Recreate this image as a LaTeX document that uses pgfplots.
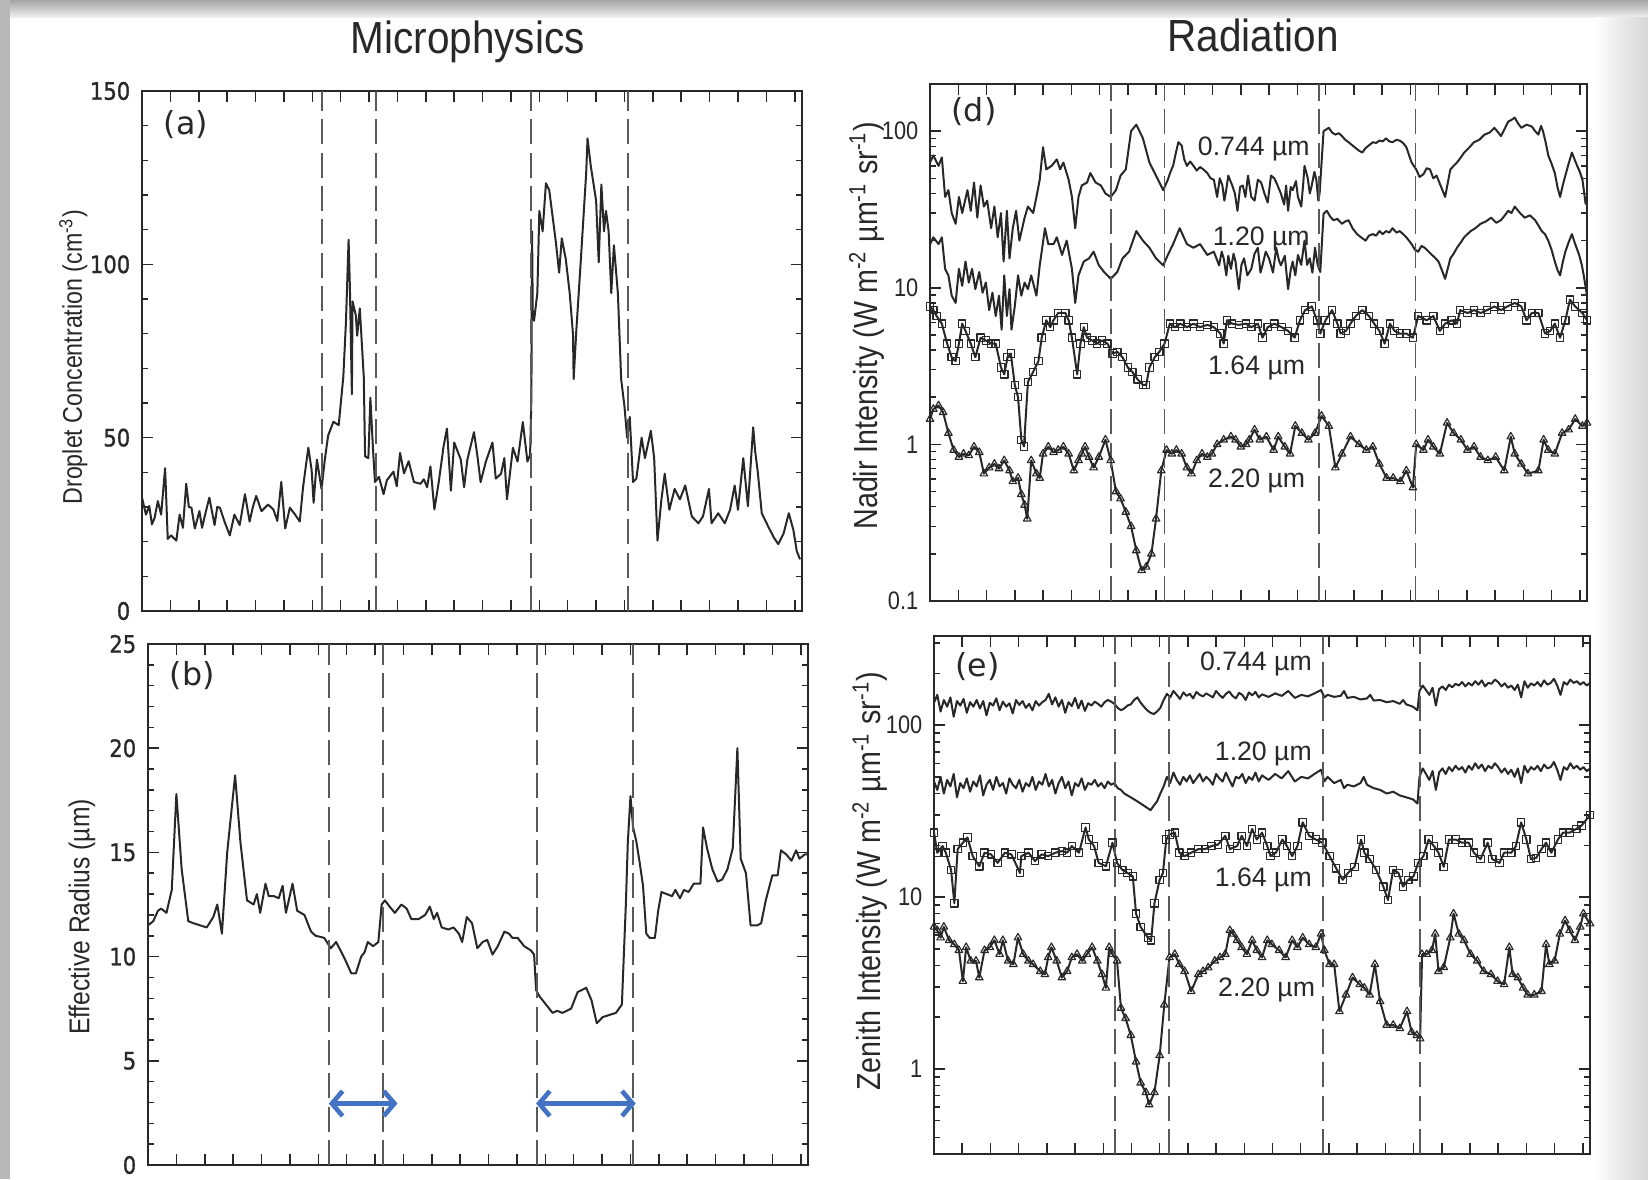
\documentclass[border=0pt]{standalone}
\usepackage{fontspec}
\setmainfont{Liberation Sans}
\newfontfamily\narrowfont{Liberation Sans}[FakeStretch=0.86]
\newfontfamily\titlefont{Liberation Sans}[FakeStretch=0.9]
\newfontfamily\roundfont{DejaVu Sans}[FakeStretch=0.88, FakeBold=1]
\newfontfamily\panelfont{DejaVu Sans}
\usepackage{pgfplots}
\pgfplotsset{compat=1.18}
\usetikzlibrary{arrows.meta}
\definecolor{ink}{RGB}{40,40,40}
\definecolor{arrowblue}{RGB}{68,114,196}
\tikzset{
  wl/.style={anchor=east, font=\fontsize{8}{9}\selectfont, text=ink, inner sep=1pt},
  plab/.style={anchor=west, font=\panelfont\fontsize{9.5}{10}\selectfont, text=ink},
}
\pgfplotsset{
  panel/.style={scale only axis, anchor=south west, xmin=0, xmax=100,
    xtick={4.3,8.6,12.9,17.2,21.5,25.8,30.1,34.4,38.7,43,47.3,51.6,55.9,60.2,64.5,68.8,73.1,77.4,81.7,86,90.3,94.6,98.9},
    xticklabels={}, tick pos=both, tick align=inside,
    axis line style={line width=0.6pt, ink}, every tick/.style={ink, line width=0.45pt},
    major tick length=3.2pt, minor tick length=1.7pt,
    /pgf/number format/assume math mode=true},
  leftticks/.style={yticklabel style={font=\roundfont\fontsize{7.2}{8}\selectfont, text=ink}},
  rightticks/.style={yticklabel style={font=\narrowfont\fontsize{7.6}{8}\selectfont, text=ink}},
  trace/.style={line width=0.6pt, ink, mark=none, line join=round},
  sq/.style={trace, mark=square, mark size=1.1pt, mark options={solid, line width=0.35pt, fill=white}},
  tri/.style={trace, mark=triangle, mark size=1.3pt, mark options={solid, line width=0.35pt, fill=white}},
  vdash/.style={line width=0.5pt, black!65, dash pattern=on 7.5pt off 2.5pt},
  barrow/.style={arrowblue, line width=1.4pt, {Straight Barb[length=3.2pt,width=7.5pt]}-{Straight Barb[length=3.2pt,width=7.5pt]}},
}
\begin{document}
\begin{tikzpicture}
\useasboundingbox (0pt,0pt) rectangle (494.4pt,353.7pt);
\fill[white] (0pt,0pt) rectangle (494.4pt,353.7pt);
\shade[top color=black!35, bottom color=black!6] (0pt,348.5pt) rectangle (494.4pt,353.7pt);
\fill[black!28] (0pt,0pt) rectangle (3pt,353.7pt);
\shade[left color=white, right color=black!16] (478pt,0pt) rectangle (494.4pt,348.5pt);

% ---------------- (a) ----------------
\begin{axis}[panel, leftticks, at={(42.6pt,170.4pt)}, width=198pt, height=156pt,
  ymin=0, ymax=150, ytick={0,50,100,150}, yticklabels={0,50,100,150},
  minor ytick={10,20,30,40,60,70,80,90,110,120,130,140}]
\addplot[trace] coordinates {(0,32.7)(0.6,27.8)(1.1,30.3)(1.5,25)(1.9,26.8)(2.4,31.7)(2.9,27.8)(3.5,41.2)(3.9,20.8)(4.4,21.8)(5.2,20.3)(5.7,27.8)(6.2,24)(6.7,36.7)(7.1,30)(7.5,29.8)(8.0,23.8)(8.7,28.8)(9.1,24)(9.5,27.3)(10.2,32.7)(11.0,24.8)(11.4,30)(11.8,29.8)(12.5,25.8)(13.3,21.8)(14.0,27.8)(14.8,24.8)(15.6,33.7)(16.3,25.8)(16.8,30)(17.3,33.2)(18.1,28.8)(19.1,30.7)(19.9,29.3)(20.5,26)(21.1,37.2)(21.7,23.8)(22.4,29.8)(23.2,27.8)(23.9,25.8)(24.4,35.7)(25.2,47.1)(25.7,40.7)(26.0,31.2)(26.5,43.7)(27.2,35.2)(27.7,43.7)(28.2,50.6)(29.0,54.6)(29.8,53.6)(30.5,67.5)(30.9,83.3)(31.3,107.1)(31.5,93.3)(31.8,62.5)(31.9,89.3)(32.4,85.3)(32.6,79.4)(33.0,87.3)(33.6,67.5)(33.8,44.6)(34.3,44.1)(34.6,61.5)(35.0,46.6)(35.3,37.2)(35.9,38.7)(36.6,33.7)(37.1,37.7)(38.1,40.2)(38.6,36)(39.1,45.6)(39.7,39.7)(40.4,43.2)(41.2,37.2)(42.2,36.7)(42.7,38)(43.2,35.7)(43.7,41.7)(44.3,29.3)(45.0,37.7)(45.7,47.6)(46.2,52.6)(46.8,34.7)(47.3,48.6)(48.3,43.7)(48.8,35.7)(49.3,43.7)(50.3,51.6)(50.8,45)(51.3,37.2)(52.1,43.1)(53.1,48.6)(53.6,38.2)(54.4,39.6)(54.9,44.1)(55.3,32.2)(56.2,47.1)(56.9,43.1)(57.7,54.5)(58.4,43.1)(58.8,45.1)(59.0,61.9)(59.1,109.5)(59.2,86.7)(59.4,83.7)(59.9,91.7)(60.2,115.4)(60.7,109.5)(61.2,123.4)(61.7,121.4)(62.7,106.5)(63.2,97.6)(63.6,107.5)(64.2,101.6)(64.8,91.7)(65.3,79.8)(65.4,66.9)(65.8,80.8)(66.5,101.6)(67.3,126.4)(67.5,136.3)(68.0,128.3)(68.8,118.4)(69.2,100.6)(69.6,123.0)(70.0,109.5)(70.3,115.4)(70.7,109.5)(71.1,91.7)(71.5,105.5)(72.1,91.7)(72.6,66.9)(73.1,59.0)(73.5,50.0)(73.9,56.0)(74.4,37.2)(74.9,38.2)(75.7,50.0)(76.2,44.1)(77.1,52.0)(77.6,44.1)(78.1,20.3)(78.7,32.2)(79.2,39.6)(79.9,29.2)(80.7,35.2)(81.5,32.2)(82.3,36.2)(83.3,27.3)(84.3,25.3)(85.0,27.3)(85.9,35.2)(86.3,25.3)(87.3,28.2)(88.3,25.3)(89.1,29.2)(89.8,36.2)(90.3,29.2)(91.1,44.1)(91.8,30.2)(92.6,53.0)(92.9,46.1)(93.3,40.1)(93.9,28.2)(94.9,24.3)(95.7,21.3)(96.4,19.3)(97.2,22.3)(98.0,28.2)(98.7,23.3)(99.2,17.3)(99.7,14.9)};
\addplot[vdash] coordinates {(27.3,0)(27.3,150)};
\addplot[vdash] coordinates {(35.5,0)(35.5,150)};
\addplot[vdash] coordinates {(58.9,0)(58.9,150)};
\addplot[vdash] coordinates {(73.6,0)(73.6,150)};
\node[plab] at (rel axis cs:0.015,0.935) {(a)};
\end{axis}

% ---------------- (b) ----------------
\begin{axis}[panel, leftticks, at={(44.4pt,4.2pt)}, width=198pt, height=156.3pt,
  ymin=0, ymax=25, ytick={0,5,10,15,20,25}, yticklabels={0,5,10,15,20,25},
  minor ytick={1,2,3,4,6,7,8,9,11,12,13,14,16,17,18,19,21,22,23,24}]
\addplot[trace] coordinates {(0,11.5)(0.8,11.7)(1.5,12.2)(2.0,12.3)(2.8,12.1)(3.6,13.2)(4.3,17.8)(5.1,14.2)(6.1,11.7)(6.9,11.6)(7.9,11.5)(8.9,11.4)(9.9,11.9)(10.5,12.5)(11.2,11.1)(12.0,15.0)(13.2,18.7)(14.0,15.5)(15.0,12.7)(16.0,12.5)(16.5,13.0)(17.0,12.1)(17.8,13.5)(18.3,12.9)(19.1,12.9)(19.8,12.8)(20.4,13.4)(20.9,12.1)(21.9,13.5)(22.6,12.2)(23.7,12.0)(24.7,11.2)(25.4,11.0)(26.7,10.9)(27.7,10.4)(28.5,10.7)(29.0,10.4)(29.8,9.9)(30.8,9.2)(31.5,9.2)(32.3,10.0)(32.8,10.2)(33.3,10.7)(34.1,10.5)(34.9,10.7)(35.4,12.5)(35.9,12.7)(36.6,12.4)(37.4,12.1)(38.4,12.5)(39.2,12.3)(39.9,11.8)(41.0,11.8)(42.0,12.0)(42.7,12.4)(43.3,11.8)(43.8,12.1)(44.5,11.4)(45.5,11.3)(46.3,11.4)(47.1,11.1)(47.6,10.7)(48.3,11.9)(49.1,11.6)(49.9,10.4)(50.7,10.7)(51.4,10.8)(52.2,10.1)(53.0,10.5)(54.0,11.2)(54.7,11.1)(55.2,10.9)(56.0,10.9)(57.0,10.5)(58.0,10.3)(58.5,10.1)(58.8,8.4)(59.3,8.1)(60.3,7.7)(61.3,7.3)(62.0,7.4)(62.8,7.3)(64.1,7.5)(65.1,8.3)(66.4,8.5)(67.2,7.9)(68.0,6.8)(68.9,7.1)(69.9,7.2)(70.9,7.3)(71.8,7.7)(72.4,12.5)(72.7,15.5)(73.1,17.7)(73.5,16.2)(74.0,15.5)(74.5,14.5)(75.0,13.4)(75.5,11.1)(76.0,10.9)(76.8,10.9)(77.3,12.2)(77.8,13.1)(78.6,13.0)(79.4,12.9)(79.9,13.2)(80.6,12.8)(81.2,13.2)(81.9,13.1)(82.7,13.5)(83.7,13.5)(84.1,16.2)(84.7,15.2)(85.5,14.2)(86.3,13.6)(87.0,13.7)(87.8,14.2)(88.6,15.2)(89.3,20.0)(89.8,14.7)(90.6,14.0)(91.3,11.5)(92.3,11.5)(92.9,11.6)(93.6,12.7)(94.6,13.9)(95.4,13.9)(95.9,15.1)(96.7,14.9)(97.5,14.6)(98.2,15.1)(98.7,14.7)(99.5,14.9)(100,14.9)};
\addplot[vdash] coordinates {(27.4,0)(27.4,25)};
\addplot[vdash] coordinates {(35.6,0)(35.6,25)};
\addplot[vdash] coordinates {(58.9,0)(58.9,25)};
\addplot[vdash] coordinates {(73.5,0)(73.5,25)};
\addplot[barrow] coordinates {(27.4,2.95)(37.8,2.95)};
\addplot[barrow] coordinates {(58.8,2.95)(73.9,2.95)};
\node[plab] at (rel axis cs:0.015,0.94) {(b)};
\end{axis}

% ---------------- (d) ----------------
\begin{axis}[panel, rightticks, at={(279pt,173.4pt)}, width=197.1pt, height=155.1pt,
  ymode=log, ymin=0.1, ymax=200, ytick={0.1,1,10,100}, yticklabels={0.1,1,10,100},
  minor ytick={0.2,0.3,0.4,0.5,0.6,0.7,0.8,0.9,2,3,4,5,6,7,8,9,20,30,40,50,60,70,80,90,200}]
\addplot[trace] coordinates {(0,63)(0.5,70)(1.3,60)(1.8,68)(2.3,38)(2.8,42)(3.3,30)(3.9,25.6)(4.4,38)(4.9,30)(5.7,42)(6.2,31)(6.7,47)(7.2,28)(7.7,45)(8.2,33)(8.7,36)(9.3,24)(9.8,33)(10.3,21)(10.8,30)(11.2,14.7)(11.7,31)(12.1,15.4)(12.6,24)(13.1,31)(13.6,20)(14.4,28)(14.9,33)(15.7,30)(16.2,38)(16.7,49)(17.2,79)(17.7,57)(18.5,60)(19.3,66)(19.8,57)(20.3,63)(21.1,49)(21.6,38)(22.1,24)(22.6,38)(23.1,45)(23.9,47)(24.4,54)(25.2,47)(26.0,45)(26.7,40)(27.5,38)(28.3,42)(29.0,52)(29.8,57)(30.6,100)(31.4,110)(32.4,90)(33.4,63)(34.4,52)(35.5,42)(36.2,49)(36.6,55)(37.0,60)(37.4,72)(37.8,85)(38.3,81)(38.7,66)(39.1,60)(39.6,64)(40.1,60)(40.6,56)(41.1,59)(41.6,57)(42.2,54)(42.7,50)(43.2,49)(43.5,42)(43.7,38)(44.1,50)(44.5,45)(44.8,36)(45.0,40)(45.4,52)(46.0,45)(46.4,40)(46.8,31)(47.2,44)(47.6,45)(48.0,38)(48.4,52)(48.9,38)(49.4,36)(49.9,49)(50.4,47)(50.9,40)(51.4,35)(51.9,52)(52.4,50)(52.9,45)(53.4,40)(53.9,34)(54.2,45)(54.5,31)(54.9,44)(55.2,42)(55.7,48)(56.0,38)(56.5,33)(56.8,46)(57.0,60)(57.5,50)(57.8,40)(58.1,45)(58.5,55)(58.8,49)(59.1,36)(59.3,40)(59.9,100)(60.7,105)(61.2,98)(61.7,95)(62.2,97)(62.7,93)(63.2,88)(63.7,85)(64.3,81)(64.8,78)(65.3,75)(65.8,73)(66.3,78)(66.8,81)(67.4,85)(67.9,84)(68.4,87)(68.9,86)(69.4,90)(69.9,86)(70.4,85)(71.0,88)(71.5,87)(72.0,84)(72.5,79)(73.3,63)(74.0,57)(74.5,51)(75.1,53)(75.6,58)(76.1,57)(76.6,50)(77.1,52)(77.8,44)(78.4,38)(79.2,57)(79.7,60)(80.2,63)(80.8,68)(81.3,73)(82.0,78)(82.8,85)(83.6,88)(84.4,95)(85.2,98)(85.9,105)(86.4,99)(86.9,93)(87.5,104)(88.0,115)(88.5,118)(89.0,122)(89.5,112)(90.0,105)(90.8,110)(91.6,107)(92.1,100)(92.6,95)(93.0,108)(93.3,100)(93.7,85)(94.1,70)(94.6,62)(95.1,54)(95.5,44)(95.9,38)(96.3,45)(96.7,52)(97.2,62)(97.7,73)(98.1,66)(98.5,60)(98.9,55)(99.3,49)(99.8,34)};
\addplot[trace] coordinates {(0,18.9)(0.5,21)(1.3,19)(1.8,21)(2.3,13.2)(2.8,12)(3.3,8.9)(3.9,8.0)(4.4,13.2)(4.9,10.3)(5.4,14.7)(5.9,10.8)(6.4,13.2)(6.9,9.8)(7.5,12.6)(8.0,9.3)(8.5,10.8)(9.0,7.2)(9.5,9.3)(10.0,6.6)(10.5,8.9)(10.9,5.4)(11.3,12)(11.7,6.6)(12.1,9.8)(12.4,5.4)(12.9,7.6)(13.4,12)(13.9,8.9)(14.4,10.8)(14.9,9.8)(15.4,12)(16.2,8.9)(16.7,13.9)(17.5,24)(18.0,19)(18.8,19)(19.3,21)(20.1,16.2)(20.8,20)(21.6,13.2)(22.1,8.0)(22.6,12)(23.4,14.7)(24.2,15.4)(24.9,17)(25.7,13.9)(26.5,12.6)(27.5,11.4)(28.5,12.6)(29.3,15.4)(30.3,17)(31.4,23)(32.4,20)(33.4,18)(34.4,15.4)(35.5,13.9)(36.2,16.2)(37.0,19)(38.0,24)(39.1,19)(40.1,18)(41.1,19)(42.2,16.2)(43.2,17)(44.0,13.9)(44.4,17)(44.7,15.4)(45.1,12)(45.4,16)(45.8,13.2)(46.2,16.5)(46.5,14.7)(47.0,9.8)(47.4,14)(47.8,15.4)(48.3,12)(48.9,13.2)(49.4,16.5)(49.9,18)(50.3,12.5)(50.6,13.9)(51.1,17)(51.6,15.4)(52.2,12.5)(52.7,18)(53.1,15)(53.4,13.9)(54.0,16)(54.5,9.8)(54.9,13)(55.2,14.7)(55.6,12)(56.0,16.2)(56.5,14)(57.0,20)(57.4,14)(57.8,15.4)(58.2,12.5)(58.6,18)(59.0,14)(59.4,12.6)(59.9,29.7)(60.4,31)(60.9,28.5)(61.4,27)(62.0,27.5)(62.7,25.6)(63.2,26.5)(63.7,27)(64.3,24)(65.0,22)(65.6,21)(66.3,20)(66.8,21.5)(67.4,22)(67.9,21.5)(68.4,23)(68.9,22)(69.4,23)(69.9,22.5)(70.4,24)(71.0,22.5)(71.5,23)(72.0,22)(72.5,21)(73.3,19)(73.8,17.5)(74.3,17)(74.8,18.5)(75.3,18)(75.9,17)(76.4,16.2)(76.9,15.5)(77.4,14.7)(77.9,13)(78.4,11.4)(79.2,15.4)(79.7,16.5)(80.2,18)(80.8,19.5)(81.3,21)(81.8,22)(82.3,23)(83.0,24)(83.8,25.6)(84.6,26.5)(85.4,28)(86.2,26)(86.9,27)(87.5,29)(88.0,31)(88.5,30)(89.0,33)(89.8,30)(90.5,28)(91.3,29)(92.1,27)(92.6,25)(93.1,23)(93.6,22)(94.1,20)(94.6,17.5)(95.1,14.7)(95.5,13)(95.9,12)(96.3,14.5)(96.7,17)(97.2,19.5)(97.7,22)(98.2,19)(98.8,16.2)(99.2,14)(99.5,12)(100,8.9)};
\addplot[sq] coordinates {(0,7.6)(0.5,7.2)(1.0,6.6)(1.8,5.9)(2.6,4.4)(3.3,3.6)(3.9,3.4)(4.4,4.4)(4.9,5.9)(5.4,5.3)(6.2,4.4)(6.9,3.6)(7.7,4.8)(8.5,4.6)(9.3,4.4)(10.0,4.4)(10.8,3.1)(11.3,2.8)(11.8,3.6)(12.3,3.8)(12.9,2.4)(13.4,2.0)(13.9,1.07)(14.3,0.97)(14.9,2.5)(15.7,2.9)(16.5,3.4)(17.0,4.8)(17.7,6.2)(18.3,5.6)(18.8,6.2)(19.5,6.9)(20.6,6.9)(21.1,6.2)(21.6,4.8)(22.4,2.8)(22.9,4.4)(23.4,5.6)(23.9,4.8)(24.7,4.6)(25.4,4.4)(26.2,4.6)(27.0,4.4)(27.8,3.8)(28.5,3.9)(29.3,3.6)(30.1,3.1)(30.8,2.9)(31.6,2.6)(32.4,2.4)(32.9,2.4)(33.4,3.1)(34.2,3.6)(34.9,3.9)(35.7,4.4)(36.5,5.9)(37.3,5.6)(38.1,5.9)(39.1,5.6)(40.1,5.9)(41.1,5.6)(42.2,5.8)(43.2,5.6)(44.2,5.1)(44.7,4.4)(45.2,6.2)(46.0,5.9)(47.0,5.8)(48.1,5.9)(48.9,5.6)(49.9,5.9)(50.6,4.8)(51.4,5.6)(52.4,5.9)(53.5,5.6)(54.5,5.3)(55.5,4.8)(56.3,6.2)(57.1,7.2)(58.1,7.6)(58.9,6.2)(59.4,5.1)(60.2,6.2)(61.2,7.2)(62.0,5.9)(62.5,5.1)(63.3,5.3)(64.0,5.9)(64.8,6.6)(65.8,7.2)(66.8,6.6)(67.6,5.9)(68.4,5.3)(69.2,4.4)(70.0,5.9)(70.7,5.3)(71.5,5.1)(72.5,5.1)(73.5,4.8)(74.3,6.6)(75.6,6.2)(76.6,6.6)(77.6,5.3)(78.4,5.9)(79.4,6.2)(80.2,5.9)(80.7,7.2)(81.8,6.9)(82.8,7.2)(83.8,6.9)(84.8,7.2)(85.9,7.6)(86.9,7.2)(87.9,7.6)(89.0,8.0)(90.0,7.6)(90.8,6.2)(91.6,6.9)(92.6,6.9)(93.6,5.1)(94.4,5.3)(95.1,5.9)(95.9,4.8)(96.7,6.2)(97.4,8.4)(98.2,7.6)(99.3,6.9)(100,6.2)};
\addplot[tri] coordinates {(0,1.45)(0.5,1.68)(1.3,1.77)(2.0,1.6)(2.8,1.18)(3.6,0.92)(4.4,0.83)(5.1,0.87)(5.9,0.85)(6.7,0.965)(7.5,0.89)(8.2,0.65)(9.0,0.71)(9.8,0.75)(10.5,0.70)(11.3,0.79)(12.1,0.68)(12.6,0.58)(13.4,0.61)(13.9,0.48)(14.4,0.41)(14.8,0.335)(15.4,0.79)(16.2,0.65)(16.7,0.61)(17.2,0.87)(18.0,0.965)(18.8,0.89)(19.5,0.92)(20.3,0.965)(21.1,0.87)(21.9,0.68)(22.6,0.79)(23.1,0.87)(23.6,0.965)(24.2,0.83)(24.9,0.71)(25.7,0.83)(26.7,1.07)(27.5,0.79)(28.3,0.50)(29.0,0.45)(29.8,0.37)(30.6,0.30)(31.4,0.21)(32.2,0.157)(32.9,0.165)(33.7,0.20)(34.4,0.335)(35.2,0.68)(36.0,0.92)(36.8,0.87)(37.5,0.92)(38.3,0.87)(39.1,0.71)(39.8,0.65)(40.6,0.79)(41.4,0.87)(42.2,0.83)(42.9,0.87)(43.7,1.0)(44.7,1.07)(45.8,1.12)(46.5,1.07)(47.3,0.965)(48.1,1.0)(48.6,1.07)(49.4,1.24)(50.2,1.07)(51.2,1.12)(52.3,0.92)(53.0,1.12)(54.0,0.965)(54.8,0.87)(55.6,1.31)(56.6,1.18)(57.6,1.07)(58.6,1.18)(59.6,1.52)(60.7,1.31)(61.7,0.71)(62.7,0.87)(64.0,1.12)(65.3,1.0)(66.4,0.92)(67.4,0.965)(68.4,0.75)(69.5,0.61)(70.5,0.61)(71.6,0.58)(72.5,0.68)(73.5,0.53)(74.0,1.0)(75.1,0.92)(75.8,1.07)(76.6,0.965)(77.6,0.87)(78.7,1.37)(79.7,1.18)(80.8,1.07)(81.8,0.92)(82.8,0.965)(83.8,0.83)(84.9,0.79)(86.1,0.83)(87.4,0.68)(88.4,1.12)(89.0,0.87)(90.0,0.75)(91.0,0.65)(92.6,0.68)(93.4,1.07)(94.1,0.92)(95.1,0.87)(96.2,1.18)(97.2,1.24)(98.2,1.45)(99.3,1.31)(100,1.37)};
\addplot[vdash] coordinates {(27.5,0.1)(27.5,200)};
\addplot[vdash] coordinates {(35.7,0.1)(35.7,200)};
\addplot[vdash] coordinates {(59.2,0.1)(59.2,200)};
\addplot[vdash] coordinates {(73.9,0.1)(73.9,200)};
\node[wl] at (axis cs:58.4,77) {0.744 µm};
\node[wl] at (axis cs:58.4,20.5) {1.20 µm};
\node[wl] at (axis cs:57.7,3.08) {1.64 µm};
\node[wl] at (axis cs:57.7,0.58) {2.20 µm};
\node[plab] at (rel axis cs:0.015,0.946) {(d)};
\end{axis}

% ---------------- (e) ----------------
\begin{axis}[panel, rightticks, at={(280.2pt,7.5pt)}, width=196.8pt, height=155.4pt,
  ymode=log, ymin=0.32, ymax=330, ytick={1,10,100}, yticklabels={1,10,100},
  minor ytick={0.4,0.5,0.6,0.7,0.8,0.9,2,3,4,5,6,7,8,9,20,30,40,50,60,70,80,90,200,300}]
\addplot[trace] coordinates {(0,135)(0.5,150)(1,120)(1.5,140)(2,128)(2.5,145)(3,112)(3.5,138)(4,130)(4.5,142)(5,118)(5.5,136)(6,128)(6.5,140)(7,125)(7.5,138)(8,114)(8.5,135)(9,130)(9.5,143)(10,122)(10.5,137)(11,128)(11.5,134)(12,117)(12.5,140)(13,131)(13.5,138)(14,126)(14.5,133)(15,122)(15.5,138)(16,130)(16.5,136)(17,140)(17.5,152)(18,132)(18.5,145)(19,128)(19.5,140)(20,118)(20.5,136)(21,129)(21.5,144)(22,125)(22.5,139)(23,121)(23.5,134)(24,130)(24.5,137)(25,133)(25.5,128)(26,136)(26.5,140)(27,137)(27.5,133)(28,126)(28.5,122)(29,125)(29.5,130)(30,132)(30.5,140)(31,145)(31.5,135)(32,128)(32.5,122)(33,118)(33.5,116)(34,120)(34.5,126)(35,140)(35.5,152)(36,145)(36.5,158)(37,150)(37.5,142)(38,155)(38.5,148)(39,152)(39.5,143)(40,156)(40.5,150)(41,147)(41.5,153)(42,149)(42.5,145)(43,158)(43.5,150)(44,144)(44.5,152)(45,157)(45.5,148)(46,143)(46.5,154)(47,150)(47.5,140)(48,155)(48.5,149)(49,156)(49.5,145)(50,151)(51,146)(52,153)(53,148)(54,158)(55,144)(56,150)(57,147)(58,153)(59,160)(59.5,145)(60,150)(61,146)(62,148)(62.5,158)(63,144)(64,146)(65,141)(66,143)(66.5,150)(67,139)(68,140)(69,136)(70,138)(71,133)(71.5,140)(72,132)(73,128)(73.7,122)(74,158)(74.5,170)(75,160)(75.5,150)(76,165)(76.5,130)(77,162)(77.5,168)(78,160)(78.5,172)(79,166)(79.5,174)(80,170)(80.5,178)(81,168)(81.5,176)(82,170)(82.5,180)(83,172)(83.5,182)(84,168)(84.5,176)(85,174)(85.5,184)(86,178)(86.5,168)(87,175)(87.5,165)(88,170)(88.5,160)(89,172)(89.5,145)(90,180)(90.5,165)(91,175)(91.5,170)(92,178)(92.5,168)(93,182)(93.5,172)(94,176)(94.5,186)(95,170)(95.5,150)(96,178)(96.5,172)(97,184)(97.5,176)(98,180)(98.5,172)(99,178)(99.5,170)(100,176)};
\addplot[trace] coordinates {(0,47)(0.5,42)(1,50)(1.5,40)(2,48)(2.5,44)(3,52)(3.5,38)(4,46)(4.5,43)(5,49)(5.5,41)(6,47)(6.5,44)(7,51)(7.5,39)(8,45)(8.5,48)(9,42)(9.5,50)(10,44)(10.5,46)(11,40)(11.5,49)(12,45)(12.5,43)(13,48)(13.5,41)(14,46)(14.5,44)(15,50)(15.5,42)(16,47)(16.5,45)(17,52)(17.5,44)(18,48)(18.5,40)(19,46)(19.5,50)(20,43)(20.5,47)(21,39)(21.5,46)(22,44)(22.5,49)(23,42)(23.5,46)(24,45)(24.5,48)(25,44)(25.5,46)(26,43)(26.5,47)(27,45)(27.5,46)(28,43)(28.5,42)(29,40)(29.5,39)(30,38)(30.5,37)(31,36)(31.5,35)(32,34)(32.5,33)(33,32)(33.5,34)(34,36)(34.5,40)(35,44)(35.5,50)(36,46)(36.5,53)(37,48)(37.5,45)(38,50)(38.5,47)(39,51)(39.5,46)(40,49)(40.5,52)(41,47)(41.5,50)(42,48)(42.5,45)(43,52)(43.5,49)(44,47)(44.5,53)(45,48)(45.5,44)(46,50)(46.5,49)(47,52)(47.5,46)(48,50)(48.5,48)(49,53)(49.5,47)(50,51)(51,48)(52,52)(53,49)(54,54)(55,47)(56,50)(57,49)(58,52)(59,55)(59.5,47)(60,50)(61,46)(62,48)(62.5,43)(63,45)(64,44)(65,46)(65.5,50)(66,45)(67,43)(68,42)(69,40)(70,41)(71,39)(72,38)(73,37)(73.7,35)(74,50)(74.5,56)(75,52)(75.5,48)(76,54)(76.5,42)(77,53)(77.5,56)(78,52)(78.5,57)(79,54)(79.5,58)(80,55)(80.5,57)(81,53)(81.5,58)(82,55)(82.5,60)(83,56)(83.5,59)(84,54)(84.5,58)(85,56)(85.5,60)(86,57)(86.5,53)(87,56)(87.5,52)(88,55)(88.5,50)(89,56)(89.5,46)(90,58)(90.5,53)(91,57)(91.5,55)(92,58)(92.5,54)(93,59)(93.5,56)(94,57)(94.5,61)(95,55)(95.5,48)(96,57)(96.5,55)(97,60)(97.5,56)(98,58)(98.5,55)(99,57)(99.5,54)(100,56)};
\addplot[sq] coordinates {(0,23.7)(0.5,18.1)(1.3,19.8)(1.8,18.1)(2.6,14.4)(3.1,9.2)(3.6,19.0)(4.4,20.7)(5.1,22.2)(5.9,17.3)(6.9,15.1)(7.7,18.1)(8.7,17.7)(9.7,15.8)(10.8,18.1)(11.8,17.7)(13.1,13.8)(13.3,17.3)(14.4,18.1)(15.4,16.2)(16.4,17.7)(17.4,17.3)(18.5,18.1)(19.5,18.5)(20.3,18.1)(21.0,19.8)(22.1,18.1)(23.1,25.4)(23.6,21.6)(24.4,19.8)(25.1,15.8)(26.2,15.1)(27.2,20.7)(27.9,15.8)(28.7,14.4)(29.5,13.8)(30.3,13.2)(30.8,8.0)(31.5,6.7)(32.6,5.8)(33.1,5.6)(33.6,9.2)(34.4,12.6)(34.9,13.8)(35.4,21.6)(35.9,23.1)(36.7,23.7)(37.4,18.1)(38.2,17.3)(39.2,18.1)(40.3,19.0)(41.3,19.0)(42.3,19.8)(43.3,20.2)(44.4,22.7)(45.1,19.0)(46.2,19.8)(46.9,22.7)(47.7,19.8)(48.5,24.9)(49.2,21.6)(50.0,23.7)(50.8,19.8)(51.3,17.3)(52.1,18.1)(53.1,21.6)(53.8,19.8)(54.6,17.3)(55.4,19.8)(56.2,27.2)(57.2,22.7)(58.2,21.6)(59.2,20.7)(60.3,17.3)(61.3,14.7)(62.3,12.6)(63.1,13.8)(64.1,15.0)(65.1,21.6)(65.6,18.1)(66.4,16.6)(67.4,14.4)(68.5,11.5)(69.2,9.6)(70.0,14.4)(70.8,13.8)(71.5,11.5)(72.3,12.6)(73.1,13.2)(73.8,15.8)(74.6,17.3)(75.4,21.6)(76.2,19.8)(76.9,18.1)(77.7,15.0)(78.5,21.6)(79.5,21.6)(80.5,20.7)(81.5,20.7)(82.3,18.1)(83.3,16.6)(84.4,20.7)(85.1,16.6)(86.2,15.8)(86.9,18.1)(88.0,18.1)(88.7,19.8)(89.5,27.2)(90.3,21.6)(91.0,16.6)(91.8,16.9)(92.6,19.0)(93.3,20.7)(94.1,18.1)(95.1,21.6)(95.9,23.7)(96.9,23.7)(97.9,24.9)(98.7,26.0)(100,30)};
\addplot[tri] coordinates {(0,6.7)(0.5,6.4)(1.0,5.8)(1.5,6.7)(2.3,5.6)(3.1,5.3)(3.8,4.9)(4.4,3.24)(4.9,5.1)(5.6,4.25)(6.4,4.25)(6.9,3.4)(7.7,4.9)(8.5,5.1)(9.2,5.6)(10.0,4.65)(10.5,5.6)(11.3,4.25)(12.1,4.06)(12.8,5.8)(13.6,4.65)(14.4,4.25)(15.1,4.06)(16.2,3.7)(16.9,3.55)(17.4,4.45)(17.9,5.1)(18.7,4.25)(19.5,3.4)(20.3,3.7)(21.0,4.45)(21.8,4.65)(22.6,4.25)(23.3,4.65)(24.1,5.1)(24.9,4.25)(25.6,3.55)(26.2,2.96)(26.7,5.1)(27.2,4.65)(27.9,4.25)(28.5,2.26)(29.2,1.97)(30.0,1.57)(30.8,1.1)(31.5,0.83)(32.3,0.73)(32.8,0.62)(33.6,0.73)(34.4,1.2)(35.1,2.36)(35.9,4.45)(36.7,4.65)(37.4,4.06)(38.2,3.7)(39.2,2.83)(40.3,3.55)(41.0,3.7)(41.8,3.88)(42.8,4.25)(43.6,4.45)(44.4,4.65)(45.1,6.4)(45.6,6.1)(46.2,5.6)(46.9,5.1)(47.7,4.65)(48.5,5.6)(49.2,4.9)(50.0,4.45)(50.8,5.6)(51.5,5.3)(52.6,4.9)(53.6,4.45)(54.6,5.6)(55.4,5.1)(56.2,5.8)(57.2,5.3)(58.2,5.1)(59.0,6.1)(59.5,4.9)(60.3,4.06)(61.0,4.06)(61.8,2.16)(62.8,2.7)(63.8,3.4)(64.9,3.1)(65.6,2.96)(66.4,2.7)(67.2,4.06)(68.0,2.47)(69.0,1.8)(70.0,1.8)(71.0,1.72)(72.1,2.16)(72.8,1.64)(73.6,1.57)(74.1,1.5)(74.4,4.65)(75.1,4.65)(75.9,4.9)(76.4,6.1)(76.9,3.7)(77.7,3.9)(78.7,5.8)(79.2,8.0)(80.0,6.1)(80.8,5.6)(81.8,4.65)(82.8,4.25)(83.8,3.7)(84.9,3.55)(85.9,3.24)(86.9,3.1)(87.7,5.1)(88.2,3.55)(89.0,3.4)(89.8,2.96)(90.5,2.7)(91.5,2.7)(92.6,2.83)(93.3,5.3)(93.8,4.06)(94.6,4.25)(95.4,6.1)(96.2,7.3)(96.9,6.4)(97.7,5.6)(98.5,6.7)(99.0,8.0)(100,7.0)};
\addplot[vdash] coordinates {(27.6,0.32)(27.6,330)};
\addplot[vdash] coordinates {(35.8,0.32)(35.8,330)};
\addplot[vdash] coordinates {(59.3,0.32)(59.3,330)};
\addplot[vdash] coordinates {(74.1,0.32)(74.1,330)};
\node[wl] at (axis cs:58.2,226) {0.744 µm};
\node[wl] at (axis cs:58.2,68) {1.20 µm};
\node[wl] at (axis cs:58.2,12.5) {1.64 µm};
\node[wl] at (axis cs:58.7,2.87) {2.20 µm};
\node[plab] at (rel axis cs:0.015,0.94) {(e)};
\end{axis}

% ---------------- titles and axis labels ----------------
\node[font=\titlefont\fontsize{13.5}{15}\selectfont, text=ink] at (140.3pt,341pt) {Microphysics};
\node[font=\titlefont\fontsize{13.5}{15}\selectfont, text=ink] at (375.9pt,343.2pt) {Radiation};
\node[rotate=90, font=\narrowfont\fontsize{8.1}{9}\selectfont, text=ink] at (22pt,246.6pt) {Droplet Concentration (cm\textsuperscript{-3})};
\node[rotate=90, font=\narrowfont\fontsize{8.6}{9}\selectfont, text=ink] at (24.6pt,78.6pt) {Effective Radius (µm)};
\node[rotate=90, font=\narrowfont\fontsize{10}{11}\selectfont, text=ink] at (260pt,256pt) {Nadir Intensity (W m\textsuperscript{-2} µm\textsuperscript{-1} sr\textsuperscript{-1})};
\node[rotate=90, font=\narrowfont\fontsize{10}{11}\selectfont, text=ink] at (261pt,89.4pt) {Zenith Intensity (W m\textsuperscript{-2} µm\textsuperscript{-1} sr\textsuperscript{-1})};
\end{tikzpicture}
\end{document}
